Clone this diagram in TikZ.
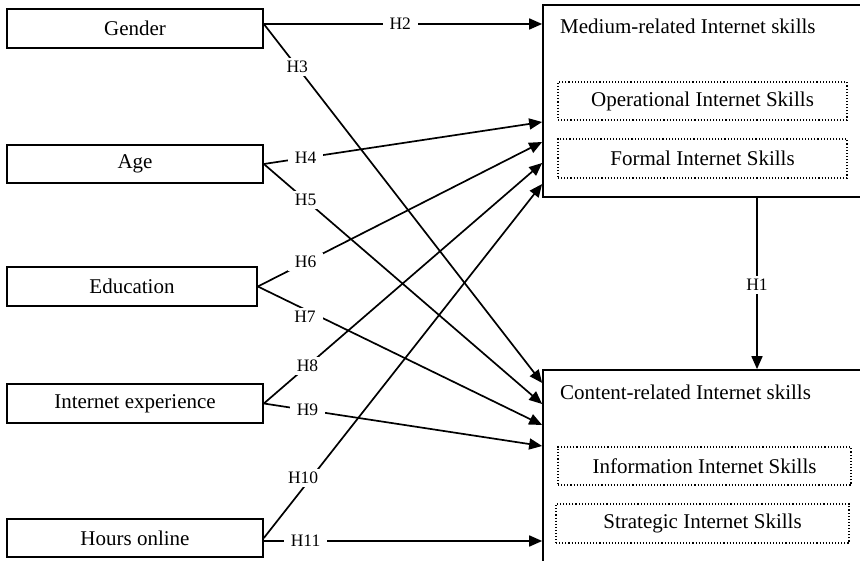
\documentclass[tikz,border=0pt]{standalone}
\usepackage{fontspec}
\setmainfont{Liberation Serif}
\usetikzlibrary{arrows.meta}
\begin{document}
\begin{tikzpicture}[x=1pt,y=-1pt,
  box/.style={draw,line width=1.7pt,rectangle,inner sep=0pt,font=\fontsize{21}{24}\selectfont},
  dotbox/.style={draw,dotted,line width=1.1pt,rectangle,inner sep=0pt,font=\fontsize{21}{24}\selectfont},
  bigbox/.style={draw,line width=1.7pt,rectangle,inner sep=0pt},
  ttl/.style={anchor=west,inner sep=0pt,font=\fontsize{21}{24}\selectfont},
  arr/.style={line width=1.7pt,-{Triangle[length=13pt,width=11pt]}},
  lbl/.style={fill=white,inner xsep=7pt,inner ysep=3pt,font=\fontsize{17.5}{20}\selectfont}]
\clip (0,0) rectangle (860,561);
\fill[white] (0,0) rectangle (860,561);
% left boxes
\node[box,minimum width=256pt,minimum height=39pt] (gender) at (135,28.5) {Gender};
\node[box,minimum width=256pt,minimum height=38pt] (age) at (135,164) {Age};
\node[box,minimum width=250pt,minimum height=39pt] (edu) at (132,286.5) {Education};
\node[box,minimum width=256pt,minimum height=39pt] (exp) at (135,403.5) {Internet experience};
\node[box,minimum width=256pt,minimum height=38pt] (hours) at (135,538) {Hours online};
% right boxes
\node[bigbox,minimum width=327pt,minimum height=192pt] (medium) at (706.5,101) {};
\node[ttl] (mtitle) at (560,26) {Medium-related Internet skills};
\node[dotbox,minimum width=289pt,minimum height=38pt] (oper) at (702.5,101) {Operational Internet Skills};
\node[dotbox,minimum width=289pt,minimum height=39pt] (formal) at (702.5,158.5) {Formal Internet Skills};
\node[bigbox,minimum width=327pt,minimum height=230pt] (content) at (706.5,485) {};
\node[ttl] (ctitle) at (560,392) {Content-related Internet skills};
\node[dotbox,minimum width=293pt,minimum height=38pt] (info) at (704.5,466) {Information Internet Skills};
\node[dotbox,minimum width=293pt,minimum height=39pt] (strat) at (702.5,523.5) {Strategic Internet Skills};
% arrows
\draw[arr] (gender.east |- 0,24) -- node[lbl,pos=0.49] {H2} (medium.west |- 0,24);
\draw[arr] (gender.east |- 0,24) -- node[lbl,pos=0.12] {H3} (content.west |- 0,383);
\draw[arr] (age.east) -- node[lbl,pos=0.15] {H4} (medium.west |- 0,122);
\draw[arr] (age.east) -- node[lbl,pos=0.15] {H5} (content.west |- 0,404);
\draw[arr] (edu.east) -- node[lbl,pos=0.168] {H6} (medium.west |- 0,142);
\draw[arr] (edu.east) -- node[lbl,pos=0.18,xshift=-4pt,yshift=-5pt] {H7} (content.west |- 0,425);
\draw[arr] (exp.east) -- node[lbl,pos=0.157] {H8} (medium.west |- 0,163);
\draw[arr] (exp.east) -- node[lbl,pos=0.157] {H9} (content.west |- 0,446);
\draw[arr] (hours.east) -- node[lbl,pos=0.17,xshift=-8pt] {H10} (medium.west |- 0,184);
\draw[arr] (hours.east |- 0,541) -- node[lbl,pos=0.15] {H11} (content.west |- 0,541);
\draw[arr] (757,197) coordinate (h1s) -- node[lbl,pos=0.51] {H1} (content.north -| h1s);
\end{tikzpicture}
\end{document}
